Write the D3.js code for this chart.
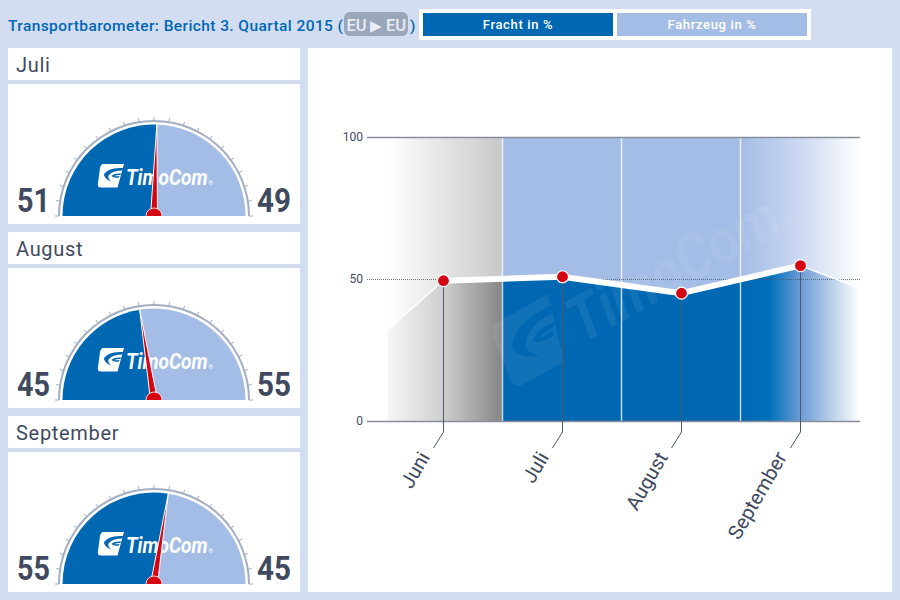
<!DOCTYPE html>
<html>
<head>
<meta charset="utf-8">
<script src="https://cdn.jsdelivr.net/npm/d3@7"></script>
<style>
  html, body { margin: 0; padding: 0; background: #d3ddf2; }
  svg { display: block; }
  text { font-family: Roboto, sans-serif; }
</style>
</head>
<body>
<div id="chart"></div>
<script>
const gaugeMonths = ["Juli", "August", "September"]
const freightShare = [51, 45, 55]
const vehicleShare = [49, 55, 45]

const trendMonths = ["Mai", "Juni", "Juli", "August", "September", "Oktober"]
const trendValues = [12, 49.4, 50.8, 45, 54.7, 39]
const labelledMonths = ["Juni", "Juli", "August", "September"]
const yTicks = [0, 50, 100]
const legendLabels = ["Fracht in %", "Fahrzeug in %"]

const BLUE = "#0067b3"
const LIGHT = "#a4bde6"
const INK = "#3f4a5f"
const RED = "#d40511"
const BG = "#d3ddf2"

const svg = d3.select("#chart").append("svg").attr("width", 900).attr("height", 600)
const defs = svg.append("defs")

svg.append("rect").attr("width", 900).attr("height", 600).attr("fill", BG)

// header
svg.append("text").attr("x", 8).attr("y", 30.5)
    .attr("font-size", 15.5).attr("font-weight", 500).attr("letter-spacing", 0.41)
    .attr("fill", BLUE).text("Transportbarometer: Bericht 3. Quartal 2015 (")
svg.append("rect").attr("x", 344).attr("y", 12).attr("width", 64).attr("height", 24).attr("rx", 6)
    .attr("fill", "#9aa6ba")
const badge = [["EU", 356.5, 16.5], ["▶", 376, 15], ["EU", 396, 16.5]]
svg.selectAll(".badge").data(badge).join("text")
    .attr("x", d => d[1]).attr("y", 30.5).attr("text-anchor", "middle")
    .attr("font-size", d => d[2]).attr("font-weight", 500).attr("fill", "#e8edf6").text(d => d[0])
svg.append("text").attr("x", 410).attr("y", 30.5)
    .attr("font-size", 15.5).attr("font-weight", 500).attr("fill", BLUE).text(")")

svg.append("rect").attr("x", 419).attr("y", 9).attr("width", 392).attr("height", 31).attr("fill", "#fff")
const legendX = d3.scaleBand().domain(legendLabels).range([423, 807]).paddingInner(0.0206)
svg.selectAll(".legend").data(legendLabels).join("rect")
    .attr("x", d => legendX(d)).attr("y", 13)
    .attr("width", legendX.bandwidth()).attr("height", 23)
    .attr("fill", (d, i) => i ? LIGHT : BLUE)
svg.selectAll(".legend-text").data(legendLabels).join("text")
    .attr("x", d => legendX(d) + legendX.bandwidth() / 2).attr("y", 29)
    .attr("text-anchor", "middle").attr("font-size", 13).attr("font-weight", 500)
    .attr("letter-spacing", 0.65).attr("fill", "#fff").text(d => d)

// the TimoCom logo, drawn around (0,0) = top left of the mark
function drawLogo(g) {
    g.append("path")
        .attr("fill-rule", "evenodd")
        .attr("d", "M5,0 H26 L19.5,23.5 H3 Q-1,23.5 0,19 L2,4 Q3,0 5,0 Z "
            + "M25,4 Q11,3 6,10 Q6,15 13,17.5 Q8,13 12,10 Q16,6.5 24,6.5 Z "
            + "M23,9.5 Q16,9 13.5,12 Q16,14.5 21,13.5 L21.5,12 Q17,12.5 16.5,12 Q18,11 22.5,11 Z")
        .attr("fill", "#fff")
    g.append("text").attr("transform", "translate(28, 21) scale(0.87, 1)")
        .attr("font-size", 22).attr("font-weight", 700).attr("font-style", "italic")
        .attr("fill", "#fff").text("TimoCom")
    g.append("text").attr("x", 110.5).attr("y", 21)
        .attr("font-size", 5.5).attr("fill", "#fff").text("®")
}

// gauges
const gaugeAngle = d3.scaleLinear().domain([0, 100]).range([-Math.PI / 2, Math.PI / 2])
const gaugeTicks = d3.range(0, 101, 5)
const panelY = d3.scaleBand().domain(gaugeMonths).range([48, 592 + 8]).paddingInner(0)

gaugeMonths.forEach((month, i) => {
    const top = panelY(month)
    svg.append("rect").attr("x", 8).attr("y", top).attr("width", 292).attr("height", 32).attr("fill", "#fff")
    svg.append("rect").attr("x", 8).attr("y", top + 36).attr("width", 292).attr("height", 140).attr("fill", "#fff")
    svg.append("text").attr("x", 16).attr("y", top + 24)
        .attr("font-size", 20).attr("letter-spacing", 0.7).attr("fill", INK).text(month)

    const g = svg.append("g").attr("transform", `translate(154, ${top + 168})`)
    const v = freightShare[i]

    g.append("path")
        .attr("d", d3.arc()({ innerRadius: 94, outerRadius: 96, startAngle: -Math.PI / 2, endAngle: Math.PI / 2 }))
        .attr("fill", "#a3aec2")
    g.selectAll(".tick").data(gaugeTicks).join("line")
        .attr("x1", d => 95 * Math.sin(gaugeAngle(d)))
        .attr("y1", d => -95 * Math.cos(gaugeAngle(d)))
        .attr("x2", d => 99 * Math.sin(gaugeAngle(d)))
        .attr("y2", d => -99 * Math.cos(gaugeAngle(d)))
        .attr("stroke", "#a3aec2").attr("stroke-width", 1)

    g.append("path")
        .attr("d", d3.arc()({ innerRadius: 0, outerRadius: 91.5, startAngle: gaugeAngle(0), endAngle: gaugeAngle(v) }))
        .attr("fill", BLUE)
    g.append("path")
        .attr("d", d3.arc()({ innerRadius: 0, outerRadius: 91.5, startAngle: gaugeAngle(v), endAngle: gaugeAngle(100) }))
        .attr("fill", LIGHT)

    drawLogo(g.append("g").attr("transform", "translate(-56, -52)"))

    // needle and hub, cut off at the gauge base
    const clipId = `hub-${i}`
    defs.append("clipPath").attr("id", clipId).append("rect")
        .attr("x", -100).attr("y", -110).attr("width", 200).attr("height", 110)
    const needle = g.append("g").attr("clip-path", `url(#${clipId})`)
    const a = gaugeAngle(v)
    const tip = [92 * Math.sin(a), -92 * Math.cos(a)]
    const px = Math.cos(a), py = Math.sin(a)
    needle.append("path")
        .attr("d", `M${tip[0]},${tip[1]} L${-3.5 * px},${-3.5 * py} L${3.5 * px},${3.5 * py} Z`)
        .attr("fill", RED).attr("stroke", "#fff").attr("stroke-width", 1)
    needle.append("circle").attr("r", 8).attr("fill", RED).attr("stroke", "#fff").attr("stroke-width", 0.8)

    g.append("text").attr("x", -137).attr("y", -4)
        .attr("font-size", 33).attr("font-weight", 700).attr("fill", INK)
        .attr("textLength", 33).attr("lengthAdjust", "spacingAndGlyphs").text(v)
    g.append("text").attr("x", 103).attr("y", -4)
        .attr("font-size", 33).attr("font-weight", 700).attr("fill", INK)
        .attr("textLength", 34).attr("lengthAdjust", "spacingAndGlyphs").text(vehicleShare[i])
})

// trend panel
svg.append("rect").attr("x", 308).attr("y", 48).attr("width", 584).attr("height", 544).attr("fill", "#fff")

const PLOT = { LEFT: 388, RIGHT: 860, TOP: 137, BOTTOM: 421, AXIS: 367 }
const x = d3.scaleLinear().domain([0, trendValues.length - 1]).range([324, 919])
const y = d3.scaleLinear().domain([0, 100]).range([PLOT.BOTTOM, PLOT.TOP])
const pct = px => `${(px - PLOT.LEFT) / (PLOT.RIGHT - PLOT.LEFT) * 100}%`
const firstBand = x(1.5)
const lastBand = x(3.5)

function gradient(id, stops) {
    defs.append("linearGradient").attr("id", id)
        .attr("gradientUnits", "userSpaceOnUse")
        .attr("x1", PLOT.LEFT).attr("x2", PLOT.RIGHT).attr("y1", 0).attr("y2", 0)
        .selectAll("stop").data(stops).join("stop")
        .attr("offset", d => pct(d[0])).attr("stop-color", d => d[1])
}
gradient("upper", [
    [PLOT.LEFT, "#ffffff"], [firstBand, "#c8c8c8"], [firstBand, LIGHT], [lastBand, LIGHT],
    [800, "#cbd8f1"], [PLOT.RIGHT, "#ffffff"]
])
gradient("lower", [
    [PLOT.LEFT, "#f6f6f6"], [x(1), "#cfcfcf"], [firstBand, "#858585"], [firstBand, BLUE], [lastBand, BLUE],
    [770, "#0070bb"], [800, "#6b9bd3"], [PLOT.RIGHT, "#ffffff"]
])

defs.append("clipPath").attr("id", "plot").append("rect")
    .attr("x", PLOT.LEFT).attr("y", PLOT.TOP)
    .attr("width", PLOT.RIGHT - PLOT.LEFT).attr("height", PLOT.BOTTOM - PLOT.TOP)

const plot = svg.append("g").attr("clip-path", "url(#plot)")
plot.append("rect")
    .attr("x", PLOT.LEFT).attr("y", PLOT.TOP)
    .attr("width", PLOT.RIGHT - PLOT.LEFT).attr("height", PLOT.BOTTOM - PLOT.TOP)
    .attr("fill", "url(#upper)")

const area = d3.area().x((d, i) => x(i)).y0(y(0)).y1(d => y(d))
plot.append("path").attr("d", area(trendValues)).attr("fill", "url(#lower)")

// watermark
const mark = plot.append("g").attr("transform", "translate(483, 330) rotate(-29) scale(2.85)").attr("opacity", 0.07)
drawLogo(mark)

plot.selectAll(".sep").data([1.5, 2.5, 3.5]).join("line")
    .attr("x1", d => x(d)).attr("x2", d => x(d))
    .attr("y1", PLOT.TOP).attr("y2", PLOT.BOTTOM)
    .attr("stroke", "#fff").attr("stroke-opacity", 0.75).attr("stroke-width", 1.5)

// axis, restyled so the ticks run over the full plot
const yAxis = svg.append("g").attr("transform", `translate(${PLOT.AXIS}, 0)`)
    .call(d3.axisLeft(y).tickValues(yTicks).tickSize(-(PLOT.RIGHT - PLOT.AXIS)).tickPadding(4))
yAxis.select(".domain").remove()
yAxis.selectAll("line")
    .attr("stroke", d => d === 50 ? "#4a5568" : "#868e9e")
    .attr("stroke-width", d => d === 50 ? 0.8 : 1.5)
    .attr("stroke-dasharray", d => d === 50 ? "1 1" : null)
yAxis.selectAll("text")
    .attr("font-family", "'Open Sans', sans-serif").attr("font-size", 12).attr("fill", INK)

const line = d3.line().x((d, i) => x(i + 1)).y(d => y(d))
const clipped = svg.append("g").attr("clip-path", "url(#plot)")
clipped.append("path").attr("d", d3.line().x((d, i) => x(i)).y(d => y(d))(trendValues))
    .attr("fill", "none").attr("stroke", "#fff").attr("stroke-width", 1.5)
clipped.append("path").attr("d", line(trendValues.slice(1, 5)))
    .attr("fill", "none").attr("stroke", "#fff").attr("stroke-width", 6)

// stems and rotated month labels
const stems = svg.append("g").attr("transform", "translate(0.5, 0)")
labelledMonths.forEach((month, i) => {
    const px = x(i + 1), v = trendValues[i + 1]
    stems.append("path")
        .attr("d", d3.line()([[px, y(v)], [px, PLOT.BOTTOM + 11], [px - 10, PLOT.BOTTOM + 27]]))
        .attr("fill", "none").attr("stroke", "#4f596c").attr("stroke-width", 1)
    stems.append("text")
        .attr("transform", `translate(${px - 13}, ${PLOT.BOTTOM + 36}) rotate(-60)`)
        .attr("text-anchor", "end").attr("font-family", "'Open Sans', sans-serif")
        .attr("font-size", 20).attr("fill", INK).text(month)
    stems.append("circle").attr("cx", px).attr("cy", y(v)).attr("r", 6)
        .attr("fill", RED).attr("stroke", "#fff").attr("stroke-width", 1.2)
})
</script>
</body>
</html>
